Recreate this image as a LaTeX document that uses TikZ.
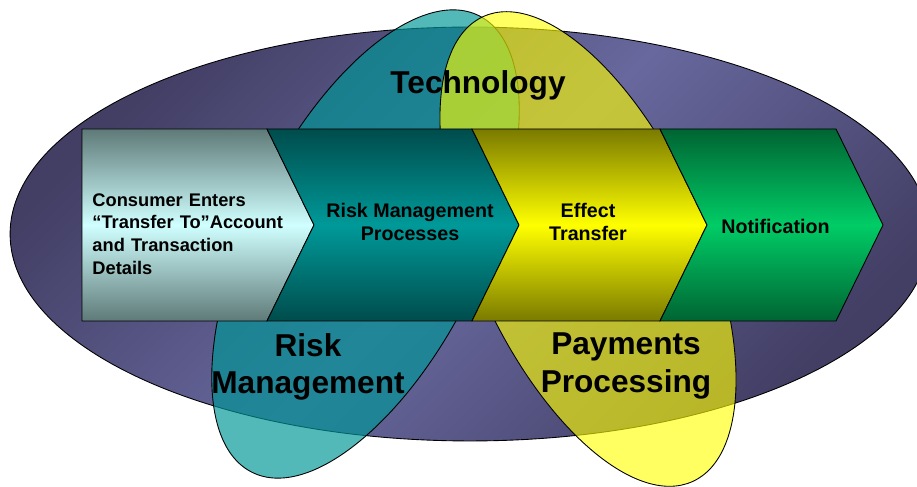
\documentclass[tikz,border=0pt]{standalone}
\usepackage{fontspec}
\setmainfont{Liberation Sans}
\usepackage{xcolor}
\usepackage{tikz}

\definecolor{ovaldark}{RGB}{66,62,100}
\definecolor{ovallight}{RGB}{104,104,158}
\definecolor{riskteal}{RGB}{0,150,150}
\definecolor{payyellow}{RGB}{255,255,0}
\definecolor{entergrey}{RGB}{94,122,120}
\definecolor{entercyan}{RGB}{208,255,255}
\definecolor{procdark}{RGB}{0,76,76}
\definecolor{proclight}{RGB}{0,153,153}
\definecolor{effectdark}{RGB}{122,122,0}
\definecolor{effectlight}{RGB}{255,255,0}
\definecolor{notedark}{RGB}{0,100,50}
\definecolor{notelight}{RGB}{0,204,102}

\newcommand{\chevron}[4]{\draw[#4] (#1,358) -- (#2,358) -- ++(47,-96) -- (#2,166) -- (#1,166) -- ++(#3,96) -- cycle;}

\begin{document}
\begin{tikzpicture}[x=0.02cm, y=0.02cm, line width=0.5pt,
  chevtext/.style={inner sep=0pt, font=\bfseries\fontsize{11.2}{13.4}\selectfont, align=center},
  ovaltext/.style={inner sep=0pt, font=\bfseries\fontsize{18}{21.4}\selectfont, align=center}]
  \clip (0,0) rectangle (917,487);
  \draw[top color=ovaldark, bottom color=ovaldark, middle color=ovallight, shading angle=45] (470,253) ellipse [x radius=9.2cm, y radius=4.14cm];
  \draw[fill=riskteal, fill opacity=0.68, shift={(365.5,243)}, rotate=63.6] (0,0) ellipse [x radius=5.1cm, y radius=2.32cm];
  \draw[fill=payyellow, fill opacity=0.62, shift={(588,238)}, rotate=114.2] (0,0) ellipse [x radius=5.1cm, y radius=2.3cm];
  \chevron{82}{267}{0}{top color=entergrey, bottom color=entergrey, middle color=entercyan}
  \chevron{267}{472}{47}{top color=procdark, bottom color=procdark, middle color=proclight}
  \chevron{472}{660}{47}{top color=effectdark, bottom color=effectdark, middle color=effectlight}
  \chevron{660}{836}{47}{top color=notedark, bottom color=notedark, middle color=notelight}
  \node[chevtext, anchor=west, text width=4cm, align=left, font=\bfseries\fontsize{10.4}{12.9}\selectfont] (consumer) at (92,253) {Consumer Enters\\“Transfer To”Account\\and Transaction\\Details};
  \node[chevtext] (riskproc) at (410,265) {Risk Management\\Processes};
  \node[chevtext] (effect) at (588,265) {Effect\\Transfer};
  \node[chevtext] (notify) at (775.5,260.8) {Notification};
  \node[ovaltext, anchor=base] (tech) at (478,393.7) {Technology};
  \node[ovaltext, anchor=north] (risk) at (308,154.2) {Risk\\Management};
  \node[ovaltext, anchor=north] (payments) at (626,154.2) {Payments\\Processing};
\end{tikzpicture}
\end{document}
